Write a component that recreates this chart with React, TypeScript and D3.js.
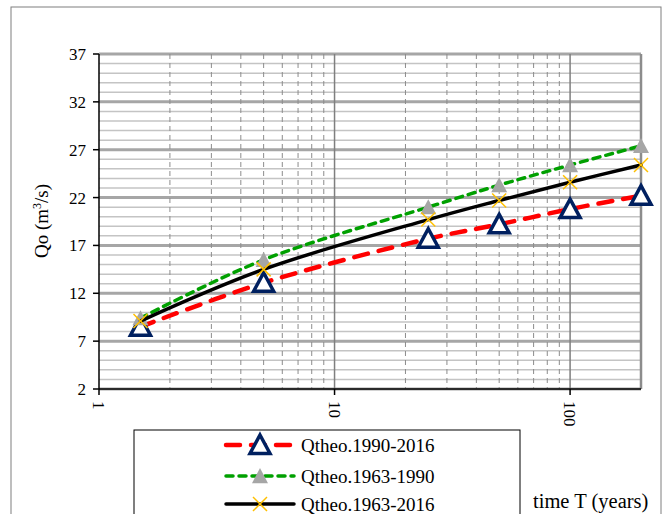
import React from 'react';
import * as d3 from 'd3';

// return period T (years)
const periods = [1.5, 5, 25, 50, 100, 200];
// theoretical discharge Qo (m3/s) per record
const q1990_2016 = [8.5, 13.1, 17.7, 19.2, 20.8, 22.2];
const q1963_1990 = [9.4, 15.5, 21.0, 23.3, 25.4, 27.4];
const q1963_2016 = [9.1, 14.5, 19.7, 21.7, 23.6, 25.4];

const yTicks = [2, 7, 12, 17, 22, 27, 32, 37];
const xTicks = [1, 10, 100];
const seriesNames = ['Qtheo.1990-2016', 'Qtheo.1963-1990', 'Qtheo.1963-2016'];

const font = "'Liberation Serif', 'Times New Roman', serif";

const margin = {l: 99, r: 641, t: 54, b: 389};

const x = d3.scaleLog().domain([1, 200]).range([margin.l, margin.r]);
const y = d3.scaleLinear().domain([2, 37]).range([margin.b, margin.t]);

const lineGen = d3.line<[number, number]>()
	.x(d => x(d[0]))
	.y(d => y(d[1]))
	.curve(d3.curveCatmullRom.alpha(0.5));

const series = [
	{name: seriesNames[0], values: q1990_2016, stroke: '#ff0000', width: 4.5, dash: '14 11', marker: 'tri'},
	{name: seriesNames[1], values: q1963_1990, stroke: '#00a000', width: 3.5, dash: '7 6', marker: 'gray'},
	{name: seriesNames[2], values: q1963_2016, stroke: '#000000', width: 3.5, dash: null, marker: 'x'},
];

function Marker({kind, cx, cy}: {kind: string, cx: number, cy: number}){
	if(kind === 'tri'){
		const s = 10;
		const pts = `${cx},${cy - s} ${cx + s},${cy + s * 0.85} ${cx - s},${cy + s * 0.85}`;
		return <polygon points={pts} fill='#fff' stroke='#002060' strokeWidth={3.5} strokeLinejoin='miter'/>;
	}
	if(kind === 'gray'){
		const s = 8;
		const pts = `${cx},${cy - s} ${cx + s},${cy + s * 0.9} ${cx - s},${cy + s * 0.9}`;
		return <polygon points={pts} fill='#a6a6a6'/>;
	}
	const s = 7;
	return (
		<g stroke='#ffc000' strokeWidth={1.5}>
			<line x1={cx - s} y1={cy - s} x2={cx + s} y2={cy + s}/>
			<line x1={cx - s} y1={cy + s} x2={cx + s} y2={cy - s}/>
		</g>
	);
}

export default function App(){

	// minor grid values
	const minorY = d3.range(3, 37).filter(v => (v - 2) % 5 !== 0);
	const minorX: number[] = [];
	[1, 10, 100].forEach(dec => {
		for(let k = 2; k <= 9; k++){
			if(dec * k < 200) minorX.push(dec * k);
		}
	});

	const legendRows = [445, 476, 504];

	return (
		<svg width={664} height={514} style={{position:'absolute', left:0, top:0, background:'#fff'}}>
			<rect x={11} y={7} width={650} height={520} fill='#fff' stroke='#7f7f7f' strokeWidth={1}/>

			{/* horizontal grid */}
			{minorY.map(v =>
				<line key={'hy' + v} x1={margin.l} x2={margin.r} y1={y(v)} y2={y(v)} stroke='#c4c4c4' strokeWidth={1.5}/>
			)}
			{yTicks.map(v =>
				<line key={'hY' + v} x1={margin.l} x2={margin.r} y1={y(v)} y2={y(v)} stroke='#a6a6a6' strokeWidth={3}/>
			)}

			{/* vertical grid */}
			{minorX.map(v =>
				<line key={'vx' + v} x1={x(v)} x2={x(v)} y1={margin.t} y2={margin.b} stroke='#8c8c8c' strokeWidth={1} strokeDasharray='5 4'/>
			)}
			{[10, 100].map(v =>
				<line key={'vX' + v} x1={x(v)} x2={x(v)} y1={margin.t} y2={margin.b} stroke='#7f7f7f' strokeWidth={1.5}/>
			)}
			<line x1={margin.r} x2={margin.r} y1={margin.t} y2={margin.b} stroke='#8c8c8c' strokeWidth={2.5}/>

			{/* axes */}
			<line x1={margin.l} x2={margin.l} y1={margin.t} y2={margin.b} stroke='#000' strokeWidth={1.5}/>
			<line x1={margin.l} x2={margin.r} y1={margin.b} y2={margin.b} stroke='#000' strokeWidth={1.5}/>
			{yTicks.map(v =>
				<g key={'yt' + v}>
					<line x1={margin.l - 6} x2={margin.l} y1={y(v)} y2={y(v)} stroke='#000' strokeWidth={1.5}/>
					<text x={margin.l - 13} y={y(v)} dy='0.35em' textAnchor='end' fontFamily={font} fontSize={17} fill='#000'>{v}</text>
				</g>
			)}
			{xTicks.map(v =>
				<g key={'xt' + v}>
					<line x1={x(v)} x2={x(v)} y1={margin.b} y2={margin.b + 6} stroke='#000' strokeWidth={1.5}/>
					<text transform={`translate(${x(v)},${margin.b + 12}) rotate(90)`} dy='0.35em' textAnchor='start' fontFamily={font} fontSize={17} fill='#000'>{v}</text>
				</g>
			)}

			<text transform='translate(48,221) rotate(-90)' textAnchor='middle' fontFamily={font} fontSize={19} fill='#000'>
				Qo (m<tspan dy={-7} fontSize={12}>3</tspan><tspan dy={7}>/s)</tspan>
			</text>
			<text x={533} y={508} fontFamily={font} fontSize={20.5} fill='#000'>time T (years)</text>

			{/* series */}
			{series.map(s => {
				const pts = periods.map((t, i) => [t, s.values[i]] as [number, number]);
				return (
					<g key={s.name}>
						<path d={lineGen(pts) || ''} fill='none' stroke={s.stroke} strokeWidth={s.width}
							strokeDasharray={s.dash || undefined} strokeLinecap='round'/>
						{pts.map((p, i) => <Marker key={i} kind={s.marker} cx={x(p[0])} cy={y(p[1])}/>)}
					</g>
				);
			})}

			{/* legend */}
			<rect x={134} y={430} width={386} height={100} fill='#fff' stroke='#000' strokeWidth={1}/>
			{series.map((s, i) =>
				<g key={'lg' + i}>
					<line x1={226} x2={294} y1={legendRows[i]} y2={legendRows[i]} stroke={s.stroke} strokeWidth={s.width}
						strokeDasharray={s.dash || undefined} strokeLinecap='round'/>
					<Marker kind={s.marker} cx={260} cy={legendRows[i]}/>
					<text x={301} y={legendRows[i]} dy='0.35em' fontFamily={font} fontSize={19} fill='#000'>{s.name}</text>
				</g>
			)}
		</svg>
	);
}
